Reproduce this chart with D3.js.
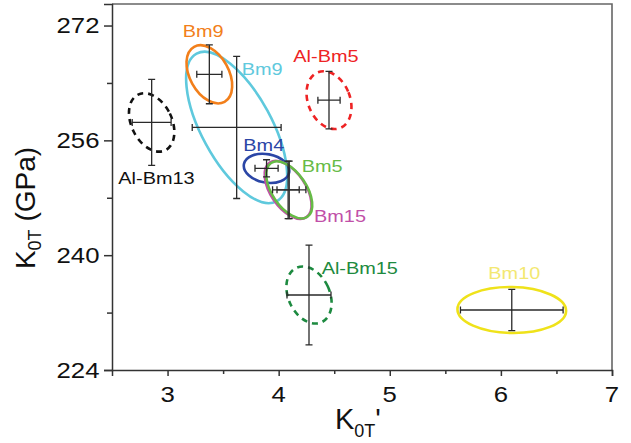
<!DOCTYPE html>
<html>
<head>
<meta charset="utf-8">
<script src="https://cdn.jsdelivr.net/npm/d3@7"></script>
<style>
  html, body { margin: 0; padding: 0; background: #fff; }
  svg { display: block; font-family: "Liberation Sans", Arial, sans-serif; }
</style>
</head>
<body>
<svg id="chart" width="631" height="443"></svg>
<script>
// ---- data ----
const names   = ["Al-Bm13", "Bm9", "Bm9", "Bm4", "Bm5", "Bm15", "Al-Bm5", "Al-Bm15", "Bm10"];
const k0p     = [2.857, 3.376, 3.622, 3.891, 4.095, 4.085, 4.453, 4.273, 6.098];   // K0T'
const k0      = [258.5, 265.2, 257.8, 252.1, 249.1, 249.1, 261.6, 234.45, 232.36]; // K0T (GPa)
const errK0p  = [0.175, 0.113, 0.40, 0.104, 0.15, 0.10, 0.10, 0.198, 0.462];
const errK0   = [6.0, 4.1, 9.9, 1.2, 4.0, 4.0, 4.0, 6.96, 2.88];
// confidence ellipses: semi-axes (K0T' units, GPa) and tilt (deg)
const ellA    = [0.182, 0.175, 0.315, 0.207, 0.154, 0.158, 0.189, 0.186, 0.489];
const ellB    = [4.32, 4.38, 11.7, 1.98, 4.52, 4.58, 4.18, 4.18, 3.2];
const ellTilt = [-26, -29, -28.5, 10.6, -34, -34, -22, -25, 1];
const colors  = ["#111111", "#f27f1b", "#5fc9dd", "#2b46a6", "#66bb46", "#c14fa8", "#ee2324", "#1d8a40", "#efe21a"];
const labelColors = ["#111111", "#f27f1b", "#5fc9dd", "#2b46a6", "#66bb46", "#c14fa8", "#ee2324", "#1d8a40", "#f3e872"];
const dashed  = [true, false, false, false, false, false, true, true, false];
// label anchors (data coords: K0T', K0T)
const labX    = [2.557, 3.136, 3.667, 3.682, 4.207, 4.318, 4.132, 4.387, 5.887];
const labY    = [249.92, 270.36, 265.11, 254.56, 251.56, 244.62, 266.88, 237.38, 236.68];
// draw order (magenta under green)
const order   = [0, 2, 1, 3, 5, 4, 6, 7, 8];

const xTicks = [3, 4, 5, 6, 7];
const xMinor = [3.5, 4.5, 5.5, 6.5];
const yTicks = [224, 240, 256, 272];
const yMinor = [232, 248, 264];

// ---- layout ----
const svg = d3.select("#chart");
const x = d3.scaleLinear().domain([2.5, 7]).range([112, 612]);
const y = d3.scaleLinear().domain([224, 275]).range([370, 4]);
const SX = 1.17;

// frame (top/right)
svg.append("path")
  .attr("d", `M${x(2.5)},${y(275)}H${x(7)}V${y(224)}`)
  .attr("fill", "none").attr("stroke", "#666").attr("stroke-width", 1.6);

// axes
const gx = svg.append("g").attr("transform", `translate(0,${y(224)})`)
  .call(d3.axisBottom(x).tickValues(xTicks).tickSize(6).tickFormat(""));
const gxm = svg.append("g").attr("transform", `translate(0,${y(224)})`)
  .call(d3.axisBottom(x).tickValues(xMinor).tickSize(4).tickFormat(""));
const gy = svg.append("g").attr("transform", `translate(${x(2.5)},0)`)
  .call(d3.axisLeft(y).tickValues(yTicks).tickSize(8).tickFormat(""));
const gym = svg.append("g").attr("transform", `translate(${x(2.5)},0)`)
  .call(d3.axisLeft(y).tickValues(yMinor).tickSize(5).tickFormat(""));
gxm.select(".domain").remove();
gym.select(".domain").remove();
[gx, gxm, gy, gym].forEach(g => {
  g.selectAll("path,line").attr("stroke", "#333").attr("stroke-width", 1.5);
});

// tick labels
xTicks.forEach(t => {
  svg.append("g").attr("transform", `translate(${x(t)},401.5) scale(${SX},1)`)
    .append("text").attr("text-anchor", "middle").attr("font-size", 22).attr("fill", "#111").text(t);
});
yTicks.forEach(t => {
  svg.append("g").attr("transform", `translate(99.5,${y(t) + 7.9}) scale(${SX},1)`)
    .append("text").attr("text-anchor", "end").attr("font-size", 22).attr("fill", "#111").text(t);
});

// axis titles
const yt = svg.append("text")
  .attr("transform", `translate(35,208) rotate(-90)`)
  .attr("text-anchor", "middle").attr("font-size", 28).attr("fill", "#111");
yt.append("tspan").text("K");
yt.append("tspan").attr("font-size", 18).attr("dy", 6).text("0T");
yt.append("tspan").attr("dy", -6).text(" (GPa)");

const xt = svg.append("text")
  .attr("transform", `translate(335,429)`)
  .attr("text-anchor", "start").attr("font-size", 29).attr("fill", "#111");
xt.append("tspan").text("K");
xt.append("tspan").attr("font-size", 18).attr("dy", 8).text("0T");
xt.append("tspan").attr("dy", -8).text("'");

// ellipses + error bars
const plot = svg.append("g");
order.forEach(i => {
  const cx = x(k0p[i]), cy = y(k0[i]);
  const rx = x(k0p[i] + ellA[i]) - cx;
  const ry = cy - y(k0[i] + ellB[i]);
  plot.append("ellipse")
    .attr("transform", `translate(${cx},${cy}) rotate(${ellTilt[i]})`)
    .attr("rx", rx).attr("ry", ry)
    .attr("fill", "none").attr("stroke", colors[i]).attr("stroke-width", 2.6)
    .attr("stroke-dasharray", dashed[i] ? "6,5" : null);
});
const eb = svg.append("g").attr("stroke", "#2a2a2a").attr("stroke-width", 1.3).attr("fill", "none");
order.forEach(i => {
  const cx = x(k0p[i]), cy = y(k0[i]);
  const x0 = x(k0p[i] - errK0p[i]), x1 = x(k0p[i] + errK0p[i]);
  const y0 = y(k0[i] - errK0[i]), y1 = y(k0[i] + errK0[i]);
  const c = 3.5;
  eb.append("path").attr("d",
    `M${x0},${cy}H${x1}M${x0},${cy - c}V${cy + c}M${x1},${cy - c}V${cy + c}` +
    `M${cx},${y0}V${y1}M${cx - c},${y0}H${cx + c}M${cx - c},${y1}H${cx + c}`);
});

// labels
names.forEach((n, i) => {
  svg.append("g").attr("transform", `translate(${x(labX[i])},${y(labY[i])}) scale(${SX},1)`)
    .append("text").attr("font-size", 17).attr("fill", labelColors[i]).text(n);
});
</script>
</body>
</html>
